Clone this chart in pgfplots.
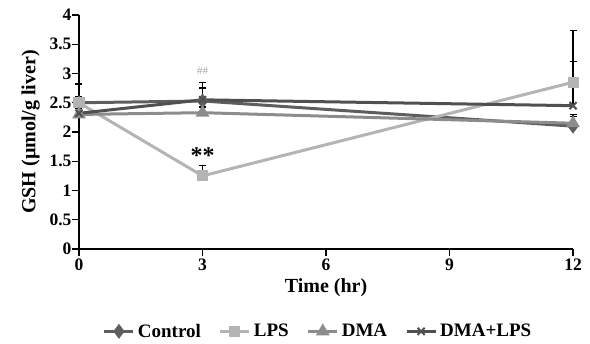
\documentclass[border=0pt]{standalone}
\usepackage{pgfplots}
\pgfplotsset{compat=1.18}
\usepackage{fontspec}
\setmainfont{Liberation Serif}
\definecolor{cctrl}{HTML}{5E5E5E}
\definecolor{clps}{HTML}{B4B4B4}
\definecolor{cdma}{HTML}{8C8C8C}
\definecolor{cdl}{HTML}{505050}
\begin{document}
\begin{tikzpicture}
\begin{axis}[
  scale only axis, width=494pt, height=234pt,
  xmin=0, xmax=12, ymin=0, ymax=4,
  axis x line*=bottom, axis y line*=left,
  axis line style={line width=1.6pt, black},
  xtick={0,3,6,9,12}, ytick={0,0.5,...,4},
  tick align=outside, major tick length=7pt,
  tick style={line width=1.4pt, black},
  /pgf/number format/assume math mode=true,
  ticklabel style={font=\fontsize{17.5}{19}\selectfont\bfseries},
  yticklabel style={/pgf/number format/fixed, xshift=3pt},
  xticklabel style={yshift=1pt},
  xlabel={Time (hr)}, ylabel={GSH (\textmu mol/g liver)},
  label style={font=\fontsize{20}{22}\selectfont\bfseries},
  xlabel style={yshift=-1pt}, ylabel style={yshift=3pt},
  clip=false,
  legend style={at={(0.484,-0.352)}, anchor=center, draw=none, legend columns=4,
    font=\fontsize{19}{21}\selectfont\bfseries, /tikz/every even column/.append style={column sep=16pt},
    /tikz/every odd column/.append style={column sep=1pt}},
  legend image code/.code={\draw[#1, line width=3pt] (0pt,0pt) -- (29pt,0pt); \path plot coordinates {(14.5pt,0pt)};},
  error bars/y dir=plus, error bars/y explicit,
  error bars/error bar style={line width=1.4pt, black},
  error bars/error mark options={rotate=90, mark size=3.5pt, line width=1.4pt, black},
]
\addplot[color=cctrl, line width=3pt, mark=diamond*, mark size=5pt, mark options={solid}] coordinates {(0,2.5) +- (0,0.32) (3,2.53) +- (0,0.22) (12,2.1) +- (0,0.2)};
\addlegendentry{Control}
\addplot[color=clps, line width=3pt, mark=square*, mark size=4pt] coordinates {(0,2.5) +- (0,0.1) (3,1.25) +- (0,0.18) (12,2.85) +- (0,0.88)};
\addlegendentry{LPS}
\addplot[color=cdma, line width=3pt, mark=triangle*, mark size=5pt] coordinates {(0,2.3) +- (0,0.1) (3,2.33) +- (0,0.1) (12,2.15) +- (0,0.12)};
\addlegendentry{DMA}
\addplot[color=cdl, line width=3pt, mark=x, mark size=5pt, mark options={line width=2pt}] coordinates {(0,2.32) +- (0,0.5) (3,2.55) +- (0,0.3) (12,2.45) +- (0,0.76)};
\addlegendentry{DMA+LPS}
\node[text=gray!70, font=\fontsize{11}{12}\selectfont] at (axis cs:3,3.05) {\#\#};
\node[font=\fontsize{24}{24}\selectfont\bfseries] at (axis cs:3,1.6) {**};
\path (rel axis cs:0,0) ++(-79pt,-95pt) coordinate (bbsw);
\path (rel axis cs:1,1) ++(17pt,15pt) coordinate (bbne);
\end{axis}
\path[use as bounding box] (bbsw) rectangle (bbne);
\end{tikzpicture}
\end{document}
